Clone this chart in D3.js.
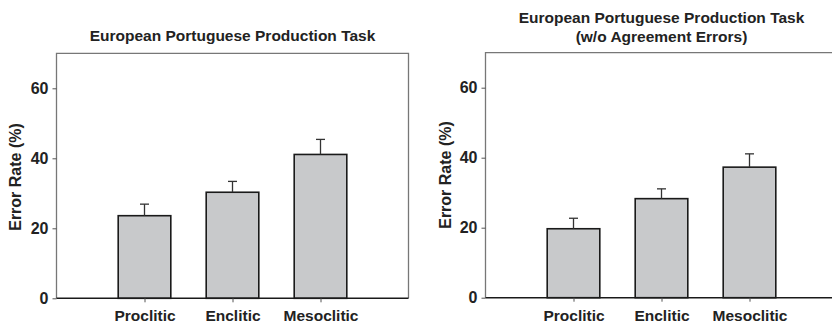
<!DOCTYPE html>
<html><head><meta charset="utf-8">
<script src="https://cdn.jsdelivr.net/npm/d3@7"></script>
<style>body{margin:0;background:#fff}svg{display:block}text{font-family:"Liberation Sans",Arial,sans-serif;font-weight:bold;fill:#222}</style>
</head><body><svg id="c" width="832" height="324"></svg>
<script>
const categories = ["Proclitic", "Enclitic", "Mesoclitic"];
const valuesAll = [23.6, 30.3, 41.1];
const errorsAll = [3.3, 3.1, 4.3];
const valuesNoAgr = [19.7, 28.3, 37.3];
const errorsNoAgr = [3.0, 2.8, 3.8];
const yTicks = [0, 20, 40, 60];
const titleLeft = ["European Portuguese Production Task"];
const titleRight = ["European Portuguese Production Task", "(w/o Agreement Errors)"];
const yLabel = "Error Rate (%)";

const svg = d3.select("#c");

function panel(o) {
  const g = svg.append("g");
  const x = d3.scaleLinear().domain([0, 4]).range([o.left, o.left + 352]);
  const y = d3.scaleLinear().domain([0, 70]).range([o.bottom, o.bottom - 245]);
  const bw = 52.6;
  g.append("path")
    .attr("d", `M${x(0)},${y(0)}V${y(70)}H${x(4)}V${y(0)}`)
    .attr("fill", "none").attr("stroke", "#777").attr("stroke-width", 1.3);
  g.selectAll("rect.bar").data(o.values).enter().append("rect")
    .attr("x", (d, i) => x(i + 1) - bw / 2)
    .attr("y", d => y(d))
    .attr("width", bw)
    .attr("height", d => y(0) - y(d))
    .attr("fill", "#c8c9cb").attr("stroke", "#1a1a1a").attr("stroke-width", 1.6);
  o.values.forEach((v, i) => {
    const cx = x(i + 1), t = y(v + o.errors[i]);
    g.append("line").attr("x1", cx).attr("x2", cx).attr("y1", y(v)).attr("y2", t)
      .attr("stroke", "#333").attr("stroke-width", 1.3);
    g.append("line").attr("x1", cx - 4.5).attr("x2", cx + 4.5).attr("y1", t).attr("y2", t)
      .attr("stroke", "#333").attr("stroke-width", 1.3);
  });
  const ya = g.append("g").attr("transform", `translate(${x(0)},0)`)
    .call(d3.axisLeft(y).tickValues(yTicks).tickSize(4).tickPadding(4));
  ya.select(".domain").remove();
  ya.selectAll("line").attr("stroke", "#555");
  ya.selectAll("text").style("font-size", "16px").style("font-family", "Liberation Sans, Arial, sans-serif").style("font-weight", "bold").attr("fill", "#222");
  const xa = g.append("g").attr("transform", `translate(0,${y(0)})`)
    .call(d3.axisBottom(x).tickValues([1, 2, 3]).tickFormat((d) => categories[d - 1]).tickSize(4).tickPadding(8));
  xa.select(".domain").attr("stroke", "#1a1a1a").attr("stroke-width", 1.6).attr("d", `M${x(0)},0H${x(4)}`);
  xa.selectAll("line").attr("stroke", "#555");
  xa.selectAll("text").style("font-size", "15.5px").style("font-family", "Liberation Sans, Arial, sans-serif").style("font-weight", "bold").attr("fill", "#222");
  const cx = (x(0) + x(4)) / 2;
  o.title.forEach((t, i) => {
    g.append("text").attr("x", cx).attr("y", o.titleY + i * 19).attr("text-anchor", "middle")
      .style("font-size", "15.5px").text(t);
  });
  g.append("text").attr("transform", `translate(${o.ylx},${o.yly}) rotate(-90)`)
    .attr("text-anchor", "middle").attr("dy", "0.35em").style("font-size", "16px").text(yLabel);
}

panel({left: 56.5, bottom: 298.3, values: valuesAll, errors: errorsAll, title: titleLeft, titleY: 40.5, ylx: 15.5, yly: 177});
panel({left: 485.5, bottom: 297.7, values: valuesNoAgr, errors: errorsNoAgr, title: titleRight, titleY: 22.5, ylx: 445, yly: 175});
</script></body></html>
